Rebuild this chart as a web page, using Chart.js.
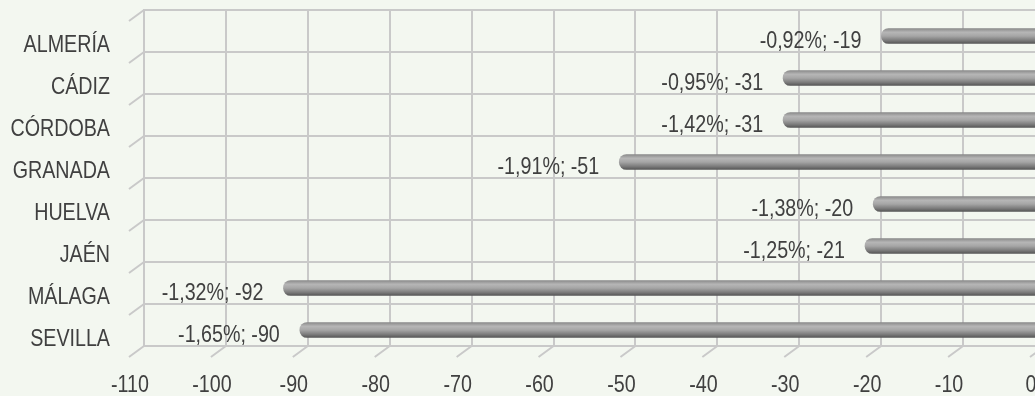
<!DOCTYPE html>
<html>
<head>
<meta charset="utf-8">
<script src="https://cdn.jsdelivr.net/npm/chart.js@4.4.1/dist/chart.umd.min.js"></script>
<style>
    html, body { margin: 0; padding: 0; background: #f3f7f0; overflow: hidden; }
    #wrap { width: 1060px; height: 396px; }
</style>
</head>
<body>
<div id="wrap"><canvas id="chart"></canvas></div>
<script>
const provinces = ['ALMERÍA', 'CÁDIZ', 'CÓRDOBA', 'GRANADA', 'HUELVA', 'JAÉN', 'MÁLAGA', 'SEVILLA'];
const variation = [-19, -31, -31, -51, -20, -21, -92, -90];
const variationPct = [-0.92, -0.95, -1.42, -1.91, -1.38, -1.25, -1.32, -1.65];
const xTicks = [-110, -100, -90, -80, -70, -60, -50, -40, -30, -20, -10, 0];

// narrow look: Liberation Sans squeezed horizontally
const FONT = "24px 'Liberation Sans', Arial, sans-serif";
const SQUEEZE = 0.82;
const TEXT = '#404040';
const GRID = '#c9c9c9';
const DEPTH = { dx: -15, dy: 11 };      // front plane offset (3D look)
const BAR_SHIFT = { dx: -8, dy: 5 };    // bars sit at mid depth
const BAR_H = 15;

const fmt = (p, v) => p.toFixed(2).replace('.', ',') + '%; ' + v;

function narrowText(ctx, str, x, y, align) {
    ctx.save();
    ctx.translate(x, y);
    ctx.scale(SQUEEZE, 1);
    ctx.textAlign = align;
    ctx.fillText(str, 0, 0);
    ctx.restore();
}

// diagonal depth ticks along the left wall and the floor, bars shifted to mid depth
const depthTicks = {
    id: 'depthTicks',
    beforeDatasetsDraw(chart) {
        const { ctx, chartArea: a, scales: { x } } = chart;
        ctx.save();
        ctx.strokeStyle = GRID;
        ctx.lineWidth = 2;
        ctx.beginPath();
        xTicks.forEach(t => {
            const px = x.getPixelForValue(t);
            ctx.moveTo(px, a.bottom);
            ctx.lineTo(px + DEPTH.dx, a.bottom + DEPTH.dy);
        });
        for (let i = 0; i <= provinces.length; i++) {
            const py = a.top + (a.bottom - a.top) * i / provinces.length;
            ctx.moveTo(a.left, py);
            ctx.lineTo(a.left + DEPTH.dx, py + DEPTH.dy);
        }
        ctx.stroke();
        ctx.restore();
        ctx.save();
        ctx.translate(BAR_SHIFT.dx, BAR_SHIFT.dy);
    },
    afterDatasetsDraw(chart) {
        chart.ctx.restore();
    }
};

// axis labels on the front plane + value labels
const labels = {
    id: 'labels',
    afterDraw(chart) {
        const { ctx, chartArea: a, scales: { x, y } } = chart;
        ctx.save();
        ctx.font = FONT;
        ctx.fillStyle = TEXT;
        ctx.textBaseline = 'alphabetic';
        provinces.forEach((p, i) => narrowText(ctx, p, a.left - 34, y.getPixelForValue(i) + 21, 'right'));
        xTicks.forEach(t => narrowText(ctx, String(t), x.getPixelForValue(t) - 14, a.bottom + 46, 'center'));
        chart.getDatasetMeta(0).data.forEach((bar, i) => {
            narrowText(ctx, fmt(variationPct[i], variation[i]), bar.x + BAR_SHIFT.dx - 20, bar.y + 17, 'right');
        });
        ctx.restore();
    }
};

const barFill = (c) => {
    const y = c.chart.scales.y;
    const cy = y ? y.getPixelForValue(c.dataIndex) : NaN;
    if (!isFinite(cy)) return '#999999';
    const g = c.chart.ctx.createLinearGradient(0, cy - BAR_H / 2, 0, cy + BAR_H / 2);
    g.addColorStop(0, '#8a8a8a');
    g.addColorStop(0.25, '#b6b6b6');
    g.addColorStop(0.5, '#a6a6a6');
    g.addColorStop(0.8, '#7a7a7a');
    g.addColorStop(1, '#575757');
    return g;
};

new Chart(document.getElementById('chart'), {
    type: 'bar',
    data: {
        labels: provinces,
        datasets: [{
            data: variation,
            backgroundColor: barFill,
            borderWidth: 0,
            borderRadius: BAR_H / 2,
            barThickness: BAR_H
        }]
    },
    options: {
        indexAxis: 'y',
        responsive: true,
        maintainAspectRatio: false,
        animation: false,
        layout: { padding: { top: 10, right: 15, left: 0, bottom: 0 } },
        plugins: { legend: { display: false }, tooltip: { enabled: false } },
        scales: {
            x: {
                min: -110,
                max: 0,
                afterFit: s => { s.height = 50; s.paddingLeft = 0; s.paddingRight = 0; },
                afterBuildTicks: s => { s.ticks = xTicks.map(v => ({ value: v })); },
                grid: { color: GRID, lineWidth: 2, drawTicks: false },
                border: { color: GRID, width: 2 },
                ticks: { display: false }
            },
            y: {
                afterFit: s => { s.width = 144; s.paddingTop = 0; s.paddingBottom = 0; },
                grid: { color: GRID, lineWidth: 2, drawTicks: false, offset: true },
                border: { color: GRID, width: 2 },
                ticks: { display: false }
            }
        }
    },
    plugins: [depthTicks, labels]
});
</script>
</body>
</html>
